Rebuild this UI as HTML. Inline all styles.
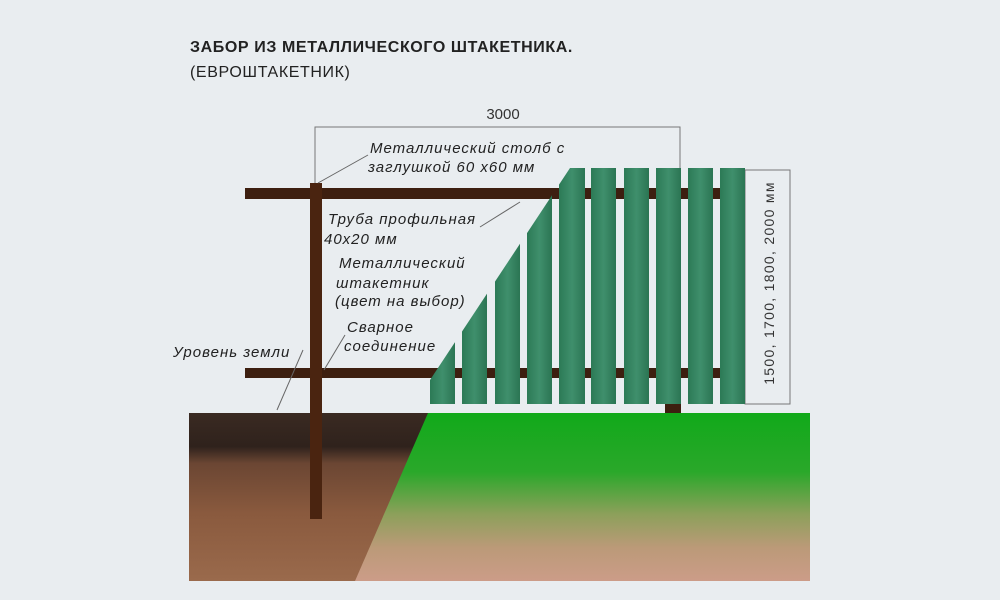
<!DOCTYPE html>
<html><head><meta charset="utf-8"><style>
html,body{margin:0;padding:0;background:#e9edf0;}
svg{display:block}
text{font-family:"Liberation Sans",sans-serif;}
</style></head><body>
<svg width="1000" height="600" viewBox="0 0 1000 600" xmlns="http://www.w3.org/2000/svg">
<defs>
<linearGradient id="soil" x1="0" y1="0" x2="0" y2="1">
<stop offset="0" stop-color="#3a2a22"/><stop offset="0.2" stop-color="#2f221c"/><stop offset="0.3" stop-color="#6b4633"/><stop offset="0.6" stop-color="#8a5a3e"/><stop offset="1" stop-color="#9a6a4c"/>
</linearGradient>
<linearGradient id="grass" x1="0" y1="0" x2="0" y2="1">
<stop offset="0" stop-color="#11a91a"/><stop offset="0.35" stop-color="#2aa82a"/><stop offset="0.6" stop-color="#8ca05a"/><stop offset="0.8" stop-color="#bb9a78"/><stop offset="1" stop-color="#cc9c88"/>
</linearGradient>
<linearGradient id="pk" x1="0" y1="0" x2="1" y2="0">
<stop offset="0" stop-color="#2c7a56"/><stop offset="0.5" stop-color="#3f8f6c"/><stop offset="1" stop-color="#2b7553"/>
</linearGradient>
<clipPath id="slant"><polygon points="430,380 570,168 760,168 760,420 430,420"/></clipPath>
</defs>
<rect width="1000" height="600" fill="#e9edf0"/>
<text x="190" y="52" font-size="16" font-weight="bold" letter-spacing="0.6" fill="#222">ЗАБОР ИЗ МЕТАЛЛИЧЕСКОГО ШТАКЕТНИКА.</text>
<text x="190" y="77" font-size="16" letter-spacing="0.6" fill="#222">(ЕВРОШТАКЕТНИК)</text>
<!-- ground -->
<rect x="189" y="413" width="245" height="168" fill="url(#soil)"/>
<polygon points="428,413 810,413 810,581 355,581" fill="url(#grass)"/>
<!-- dimension 3000 -->
<text x="503" y="119" font-size="15" text-anchor="middle" fill="#333">3000</text>
<polyline points="315,183 315,127 680,127 680,170" fill="none" stroke="#777" stroke-width="1"/>
<rect x="745" y="170" width="45" height="234" fill="none" stroke="#777" stroke-width="1"/>
<text transform="translate(774,283) rotate(-90)" font-size="14" letter-spacing="1.3" text-anchor="middle" fill="#333">1500, 1700, 1800, 2000 мм</text>
<!-- rails -->
<rect x="245" y="188" width="475" height="11" fill="#3d1f10"/>
<rect x="245" y="368" width="475" height="10" fill="#3d1f10"/>
<!-- pickets -->
<g clip-path="url(#slant)" fill="url(#pk)">
<rect x="430" y="168" width="25" height="236"/>
<rect x="462" y="168" width="25" height="236"/>
<rect x="495" y="168" width="25" height="236"/>
<rect x="527" y="168" width="25" height="236"/>
<rect x="559" y="168" width="26" height="236"/>
<rect x="591" y="168" width="25" height="236"/>
<rect x="624" y="168" width="25" height="236"/>
<rect x="656" y="168" width="25" height="236"/>
<rect x="688" y="168" width="25" height="236"/>
<rect x="720" y="168" width="25" height="236"/>
</g>
<rect x="665" y="404" width="16" height="9" fill="#3d1f10"/>
<!-- post -->
<rect x="310" y="183" width="12" height="336" fill="#4a2410"/>
<!-- leader lines -->
<g stroke="#666" stroke-width="1" fill="none">
<line x1="318" y1="183" x2="368" y2="155"/>
<line x1="480" y1="227" x2="520" y2="202"/>
<line x1="324" y1="370" x2="345" y2="335"/>
<line x1="277" y1="410" x2="303" y2="350"/>
</g>
<g font-size="15" font-style="italic" letter-spacing="1" fill="#222">
<text x="370" y="153">Металлический столб с</text>
<text x="368" y="172">заглушкой 60 х60 мм</text>
<text x="328" y="224">Труба профильная</text>
<text x="324" y="244">40х20 мм</text>
<text x="339" y="268">Металлический</text>
<text x="336" y="288">штакетник</text>
<text x="335" y="306">(цвет на выбор)</text>
<text x="347" y="332">Сварное</text>
<text x="344" y="351">соединение</text>
<text x="173" y="357">Уровень земли</text>
</g>
</svg>
</body></html>
